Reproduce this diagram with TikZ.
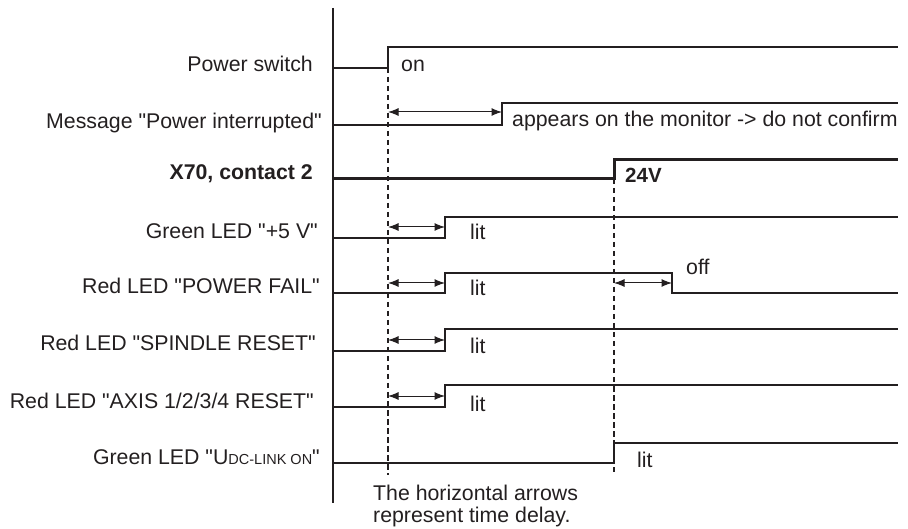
\documentclass[tikz,border=0pt]{standalone}
\usepackage{fontspec}
\setmainfont{Liberation Sans}[Ligatures=TeXOff]
\usetikzlibrary{arrows.meta}
\definecolor{ink}{RGB}{35,31,32}
\begin{document}
\begin{tikzpicture}[x=1pt,y=-1pt,
  every node/.style={inner sep=0pt, text=ink, font=\fontsize{21.3}{25}\selectfont},
  lbl/.style={anchor=base east},
  tag/.style={anchor=base west},
  sig/.style={draw=ink, line width=1.2pt},
  heavysig/.style={draw=ink, line width=3pt},
  guide/.style={draw=ink, line width=1.3pt, dash pattern=on 5.5pt off 3.5pt},
  delay/.style={draw=ink, line width=1pt, {Latex[length=10.5pt,width=8pt]}-{Latex[length=10.5pt,width=8pt]}}]
\useasboundingbox (0,0) rectangle (908,529);
% axis
\coordinate (axT) at (333,8);
\coordinate (axB) at (333,503);
\draw[sig] (axT) -- (axB);
% labels
\node[lbl] (lPS) at (313,72) {Power switch};
\node[lbl] (lMS) at (322,129) {Message "Power interrupted"};
\node[lbl,font=\fontsize{21.3}{25}\selectfont\bfseries] (lX) at (313,180) {X70, contact 2};
\node[lbl] (lG5) at (318,239) {Green LED "+5 V"};
\node[lbl] (lPF) at (320,294) {Red LED "POWER FAIL"};
\node[lbl] (lSP) at (316,351) {Red LED "SPINDLE RESET"};
\node[lbl] (lAX) at (314,408) {Red LED "AXIS 1/2/3/4 RESET"};
\node[lbl] (lUD) at (320,464) {Green LED "U{\fontsize{14.5}{16}\selectfont DC-LINK ON}"};
% key coordinates
\coordinate (d1T) at (388,68);
\coordinate (d1B) at (388,475);
\coordinate (d2T) at (614,179);
\coordinate (d2B) at (614,472);
% signals
\draw[sig] (333,68) -- (388,68) -- (388,47) -- (898,47);
\draw[sig] (333,125) -- (502,125) -- (502,103) -- (898,103);
\draw[heavysig] (333,179) -- (614,179) -- (614,160) -- (898,160);
\draw[sig] (333,238) -- (445,238) -- (445,217) -- (898,217);
\draw[sig] (333,293) -- (445,293) -- (445,273) -- (672,273) -- (672,293) -- (898,293);
\draw[sig] (333,351) -- (445,351) -- (445,329) -- (898,329);
\draw[sig] (333,407) -- (445,407) -- (445,385) -- (898,385);
\draw[sig] (333,463) -- (614,463) -- (614,443) -- (898,443);
% guides
\draw[guide] (d1T) -- (d1B);
\draw[guide] (d2T) -- (d2B);
% delay arrows
\coordinate (aM1) at (388,112); \coordinate (aM2) at (502,112);
\coordinate (aG1) at (388,227); \coordinate (aG2) at (445,227);
\coordinate (aP1) at (388,283); \coordinate (aP2) at (445,283);
\coordinate (aF1) at (614,283); \coordinate (aF2) at (672,283);
\coordinate (aS1) at (388,340); \coordinate (aS2) at (445,340);
\coordinate (aA1) at (388,396); \coordinate (aA2) at (445,396);
\draw[delay] (aM1) -- (aM2);
\draw[delay] (aG1) -- (aG2);
\draw[delay] (aP1) -- (aP2);
\draw[delay] (aF1) -- (aF2);
\draw[delay] (aS1) -- (aS2);
\draw[delay] (aA1) -- (aA2);
% state texts
\node[tag] (tOn) at (401,72) {on};
\node[tag] (tAp) at (512,127) {appears on the monitor -> do not confirm};
\node[tag,font=\fontsize{20.5}{24}\selectfont\bfseries] (t24) at (625,183) {24V};
\node[tag] (tL1) at (470,240) {lit};
\node[tag] (tL2) at (470,296) {lit};
\node[tag] (tOff) at (686,275) {off};
\node[tag] (tL3) at (470,354) {lit};
\node[tag] (tL4) at (470,411) {lit};
\node[tag] (tL5) at (637,467) {lit};
\node[anchor=north west, align=left, font=\fontsize{21.3}{22}\selectfont] (note) at (373,485) {The horizontal arrows\\represent time delay.};
\end{tikzpicture}
\end{document}
